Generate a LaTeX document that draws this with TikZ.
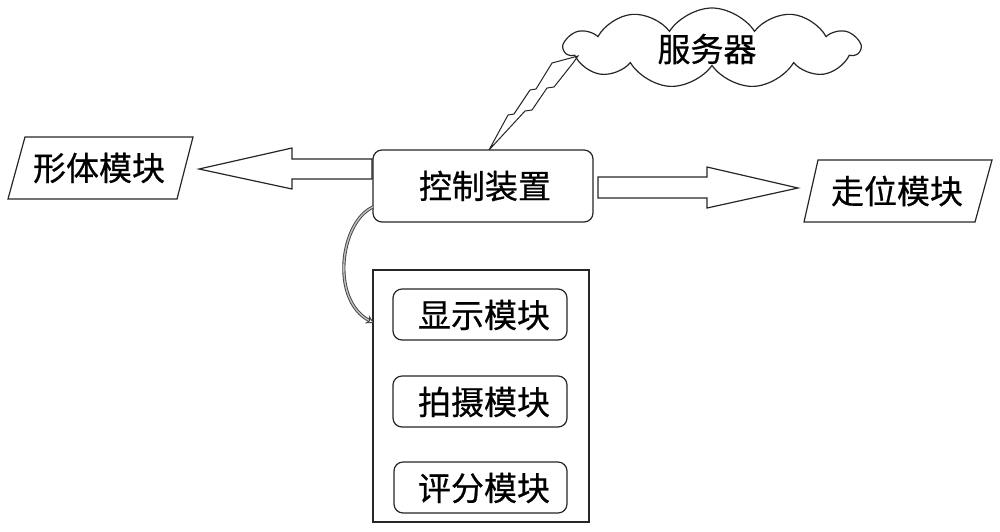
\documentclass[tikz,border=0pt]{standalone}
\usepackage{fontspec}
\newfontfamily\cjk[FakeBold=0.6]{Noto Sans CJK SC}
\usetikzlibrary{shapes.symbols,arrows.meta}
\begin{document}
\begin{tikzpicture}[x=1pt,y=-1pt,
  line/.style={draw=black!85,line width=1.2pt,line join=miter},
  lbl/.style={font=\cjk\fontsize{33}{38}\selectfont,text=black,inner sep=0pt},
  rbox/.style={line,rounded corners=9pt,fill=white}]
\useasboundingbox (0,0) rectangle (1000,531);
% cloud
\node[line,cloud,cloud puffs=11,cloud puff arc=115,aspect=3.7,minimum width=295,minimum height=80,inner sep=0pt] (cloud) at (712,48) {};
\node[lbl] (srv) at (707,49) {服务器};
% lightning bolt
\draw[line,line width=1pt] (489,150) -- (508,115) -- (514,114) -- (530,90) -- (536,89) -- (552,63) -- (578,56)
  -- (573,63) -- (554,87) -- (547,88) -- (532,110) -- (525,111) -- cycle;
% control device
\draw[rbox] (373,150) rectangle (593,222);
\node[lbl] (ctrl) at (485,186) {控制装置};
% left parallelogram
\draw[line] (25,137) -- (193,137) -- (177,199) -- (8,199) -- cycle;
\node[lbl] (xt) at (99,168) {形体模块};
% right parallelogram
\draw[line] (818,160) -- (992,160) -- (975,222) -- (804,222) -- cycle;
\node[lbl] (zw) at (897,191) {走位模块};
% left hollow arrow
\draw[line] (372,159) -- (292,159) -- (292,148) -- (199,169) -- (292,189) -- (292,179) -- (372,179) -- cycle;
% right hollow arrow
\draw[line] (598,177) -- (707,177) -- (707,167) -- (798,188) -- (707,208) -- (707,198) -- (598,198) -- cycle;
% big box
\draw[line] (373,270) rectangle (589,522);
\draw[rbox] (393,289) rectangle (567,340);
\node[lbl] (xs) at (484,315) {显示模块};
\draw[rbox] (393,376) rectangle (567,427);
\node[lbl] (ps) at (484,402) {拍摄模块};
\draw[rbox] (394,462) rectangle (567,513);
\node[lbl] (pf) at (484,488) {评分模块};
% curved double arrow
\coordinate (cs) at (373,207);
\coordinate (ce) at (374,323);
\draw[draw=black!75,line width=0.9pt,double=black!25,double distance=1.4pt,-{Stealth[open,length=8pt,width=9pt]}]
  (cs) .. controls (340,222) and (330,300) .. (ce);
\end{tikzpicture}
\end{document}
